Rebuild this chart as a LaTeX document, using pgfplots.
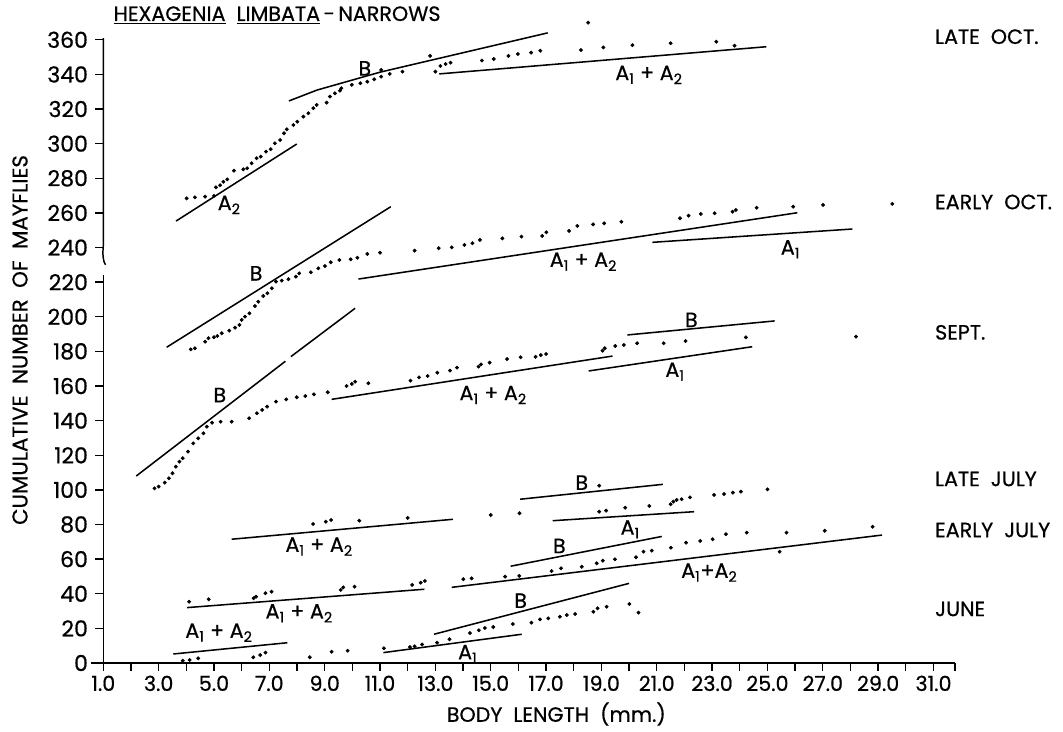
\documentclass[border=0pt]{standalone}
\usepackage{fontspec}
\setmainfont{Poppins}[FakeBold=0.6]
\usepackage{pgfplots}
\pgfplotsset{compat=1.18}
\newcommand{\Ao}{A\textsubscript{1}}
\newcommand{\At}{A\textsubscript{2}}
\newcommand{\lbl}{\fontsize{15.5}{17}\selectfont}
\tikzset{fl/.style={black, solid, no marks, line width=1.15pt},
         dt/.style={black, only marks, mark=*, mark size=1.25pt}}
\begin{document}
\begin{tikzpicture}
\begin{axis}[
  x=20.75pt, y=1.298pt,
  xmin=1, xmax=31.78, ymin=0, ymax=365,
  axis x line=bottom, axis y line=left,
  x axis line style={-, line width=1.1pt},
  y axis line style={draw=none},
  tick align=outside,
  major tick length=6pt,
  tick style={black, line width=1pt},
  xtick={1,2,...,31},
  xticklabels={1.0,,3.0,,5.0,,7.0,,9.0,,11.0,,13.0,,15.0,,17.0,,19.0,,21.0,,23.0,,25.0,,27.0,,29.0,,31.0},
  extra x ticks={31.78}, extra x tick labels={},
  ytick={0,20,...,360},
  /pgf/number format/assume math mode=true,
  ticklabel style={font=\lbl},
  yticklabel style={font=\fontsize{16.5}{18}\selectfont, xshift=-2pt},
  clip=false,
]
% ---------- dots ----------
\addplot[dt] coordinates {% LATE OCT
(4.01,268.4)(4.31,269.0)(4.68,269.4)(5.00,269.8)(5.07,274.8)(5.22,276.0)(5.34,278.0)(5.48,279.4)
(5.72,284.4)(6.06,285.2)(6.20,285.8)(6.36,288.7)(6.54,291.6)(6.69,292.5)(6.88,295.4)(7.05,296.8)
(7.20,300.2)(7.39,302.1)(7.53,306.0)(7.63,308.3)(7.87,310.8)(8.01,312.7)(8.23,315.6)(8.41,317.6)
(8.59,320.5)(8.71,322.4)(9.07,323.7)(9.19,327.2)(9.37,329.1)(9.55,330.6)(9.60,332.0)(9.98,334.0)
(10.29,334.9)(10.54,335.8)(10.79,337.2)(11.04,338.7)(11.35,340.3)(11.04,342.6)(11.81,341.6)
(12.81,350.7)(13.00,341.6)(13.18,344.9)(13.37,346.0)(13.55,346.8)(14.68,348.0)(15.11,348.9)
(15.64,350.7)(15.98,351.8)(16.46,352.6)(16.79,353.7)(18.26,354.1)(18.52,369.9)(19.07,355.6)
(20.12,356.9)(21.50,358.0)(23.15,358.9)(23.81,356.6)};
\addplot[dt] coordinates {% EARLY OCT
(4.16,181.2)(4.31,181.8)(4.68,185.6)(4.80,187.6)(5.00,188.2)(5.12,188.9)(5.28,190.5)(5.55,192.0)
(5.76,193.7)(5.92,195.3)(6.00,198.2)(6.12,200.1)(6.28,202.0)(6.48,206.2)(6.60,208.7)(6.78,212.0)
(6.93,213.6)(7.09,216.5)(7.24,220.3)(7.45,220.9)(7.69,221.7)(7.96,223.2)(8.08,225.1)(8.50,225.7)
(8.77,228.0)(9.01,229.3)(9.22,231.5)(9.53,232.8)(9.94,233.2)(10.18,234.1)(10.54,236.3)(11.00,237.0)
(12.25,238.2)(13.12,239.6)(13.59,240.1)(14.05,241.5)(14.34,242.5)(14.61,244.4)(15.42,245.3)
(16.11,246.3)(16.86,246.7)(17.01,248.8)(17.83,249.6)(18.13,252.5)(18.70,253.4)(19.10,254.0)
(19.72,254.9)(21.84,256.9)(22.15,258.4)(22.59,259.4)(23.09,259.8)(23.74,260.7)(23.86,261.7)
(24.61,263.0)(25.93,263.6)(27.01,264.6)(29.51,265.2)};
\addplot[dt] coordinates {% SEPT
(2.85,100.9)(3.00,101.9)(3.22,104.2)(3.37,106.7)(3.50,109.6)(3.62,113.4)(3.75,116.3)(3.87,118.3)
(4.06,122.1)(4.25,126.9)(4.43,129.8)(4.62,132.7)(4.74,136.5)(4.93,138.8)(5.24,139.4)(5.64,139.4)
(6.27,141.4)(6.55,144.3)(6.74,146.2)(6.92,148.1)(7.24,151.0)(7.61,152.3)(7.99,153.5)(8.30,154.2)
(8.61,155.2)(9.11,156.4)(9.79,160.0)(9.98,161.2)(10.10,162.5)(10.58,161.6)(12.10,163.1)(12.41,165.0)
(12.72,165.8)(13.07,167.7)(13.53,168.9)(13.78,170.6)(14.56,171.2)(14.65,172.5)(14.96,173.5)
(15.59,175.6)(16.08,176.6)(16.62,176.9)(16.81,177.9)(17.00,178.5)(19.04,180.4)(19.12,181.8)
(19.50,183.1)(19.81,183.7)(20.29,184.7)(21.25,184.7)(22.04,186.0)(24.22,188.1)(28.20,188.5)};
\addplot[dt] coordinates {% LATE JULY
(8.58,80.3)(9.04,81.6)(9.23,82.6)(10.25,82.2)(12.00,83.8)(15.00,85.5)(16.04,86.5)(18.92,102.4)
(18.92,87.4)(19.17,88.0)(19.86,89.7)(20.73,90.7)(21.50,91.7)(21.60,93.2)(21.72,94.2)(21.90,94.6)
(22.20,95.7)(23.07,97.1)(23.43,97.6)(23.75,98.4)(24.04,99.0)(25.00,100.3)};
\addplot[dt] coordinates {% EARLY JULY
(4.10,35.4)(4.81,36.8)(6.43,37.4)(6.52,38.3)(6.86,40.3)(7.08,41.2)(9.58,42.2)(9.67,43.7)(10.08,44.1)
(12.16,45.1)(12.47,46.4)(12.62,47.4)(14.01,48.4)(14.31,48.9)(15.52,49.9)(16.03,50.3)(17.20,53.1)
(17.54,54.7)(18.29,55.6)(18.83,57.6)(19.05,59.1)(19.49,59.9)(20.25,61.1)(20.52,64.3)(20.82,64.9)
(21.51,66.6)(22.06,69.5)(22.57,70.5)(23.02,71.5)(23.50,74.4)(24.25,75.3)(25.44,64.3)(25.69,75.3)
(27.07,76.4)(28.80,78.7)};
\addplot[dt] coordinates {% JUNE
(3.87,1.3)(4.12,1.7)(4.43,2.7)(6.42,3.3)(6.67,4.6)(6.86,6.0)(8.46,3.3)(9.25,6.5)(9.83,7.1)
(11.14,8.5)(12.08,9.2)(12.25,9.6)(12.52,10.7)(13.06,11.7)(13.51,13.7)(14.25,17.3)(14.57,18.9)
(14.79,20.2)(15.09,20.8)(15.80,22.5)(16.47,23.3)(16.78,25.2)(17.08,25.8)(17.50,26.7)(17.75,27.7)
(18.05,28.3)(18.71,29.6)(18.86,31.6)(19.19,32.5)(20.01,34.1)(20.34,29.1)};
% ---------- fitted lines ----------
\addplot[fl] coordinates {(3.63,255.3)(7.99,299.8)};
\addplot[fl] coordinates {(7.71,324.7)(8.73,331.0)(11.0,341.3)(17.06,364.0)};
\addplot[fl] coordinates {(13.14,340.3)(24.96,356.0)};
\addplot[fl] coordinates {(3.29,182.4)(11.39,263.6)};
\addplot[fl] coordinates {(10.22,221.8)(26.08,260.1)};
\addplot[fl] coordinates {(20.84,243.0)(28.07,250.7)};
\addplot[fl] coordinates {(2.19,108.0)(7.58,174.3)};
\addplot[fl] coordinates {(7.78,177.0)(10.10,204.9)};
\addplot[fl] coordinates {(9.25,152.3)(19.40,177.3)};
\addplot[fl] coordinates {(19.94,189.5)(25.26,197.6)};
\addplot[fl] coordinates {(18.54,168.7)(24.45,182.7)};
\addplot[fl] coordinates {(5.64,71.5)(13.63,83.0)};
\addplot[fl] coordinates {(16.06,94.6)(21.22,103.2)};
\addplot[fl] coordinates {(17.24,82.2)(22.35,87.4)};
\addplot[fl] coordinates {(4.03,32.0)(12.60,42.6)};
\addplot[fl] coordinates {(13.59,43.7)(29.14,73.9)};
\addplot[fl] coordinates {(15.72,55.9)(21.18,73.1)};
\addplot[fl] coordinates {(3.53,5.2)(7.65,11.7)};
\addplot[fl] coordinates {(11.12,6.0)(16.12,16.6)};
\addplot[fl] coordinates {(12.95,16.6)(20.00,46.0)};
% ---------- axis line pieces ----------
\draw[line width=1.1pt] (axis cs:0.55,0) -- (axis cs:1,0);
\draw[line width=1.1pt] (axis cs:1,0) -- (axis cs:1,224);
\draw[line width=1.1pt] (axis cs:1,361) -- (axis cs:1,241) .. controls (axis cs:0.97,236) and (axis cs:0.99,232) .. (axis cs:1.08,230);
% ---------- labels ----------
\begin{scope}[every node/.style={font=\lbl, inner sep=0pt}]
\node at (axis cs:5.55,264.6) {\At};
\node at (axis cs:10.45,343.5) {B};
\node at (axis cs:20.72,339.7) {\Ao{} + \At};
\node at (axis cs:6.52,225.1) {B};
\node at (axis cs:18.35,231.8) {\Ao{} + \At};
\node at (axis cs:25.83,239.0) {\Ao};
\node at (axis cs:5.21,154.8) {B};
\node at (axis cs:15.09,154.8) {\Ao{} + \At};
\node at (axis cs:22.25,198.2) {B};
\node at (axis cs:21.66,168.3) {\Ao};
\node at (axis cs:8.80,67.2) {\Ao{} + \At};
\node at (axis cs:18.29,104.2) {B};
\node at (axis cs:20.04,77.2) {\Ao};
\node at (axis cs:8.08,28.7) {\Ao{} + \At};
\node at (axis cs:22.90,52.2) {\Ao{}+\At};
\node at (axis cs:17.48,67.6) {B};
\node at (axis cs:5.18,17.5) {\Ao{} + \At};
\node at (axis cs:14.17,5.2) {\Ao};
\node at (axis cs:16.08,36.0) {B};
% month labels
\node[anchor=west] at (axis cs:31.05,361.8) {LATE\ \ OCT.};
\node[anchor=west] at (axis cs:31.05,266.3) {EARLY\ \ OCT.};
\node[anchor=west] at (axis cs:31.05,191.0) {SEPT.};
\node[anchor=west] at (axis cs:31.05,106.3) {LATE\ \ JULY};
\node[anchor=west] at (axis cs:31.05,76.8) {EARLY\ \ JULY};
\node[anchor=west] at (axis cs:31.05,31.2) {JUNE};
% title and axis labels
\node at (axis cs:7.28,374.3) {\underline{HEXAGENIA}\ \ \underline{LIMBATA}\,-\,NARROWS};
\node at (axis cs:17.37,-29.5) {BODY\ \ LENGTH\ \ (mm.)};
\node[rotate=90, font=\fontsize{16}{18}\selectfont] at (axis cs:-2.01,186.6) {CUMULATIVE\ \ NUMBER\ \ OF\ \ MAYFLIES};
\end{scope}
\coordinate (bbll) at (axis cs:-2.733,-39.86);
\coordinate (bbur) at (axis cs:35.68,383.0);
\end{axis}
\pgfresetboundingbox
\useasboundingbox (bbll) rectangle (bbur);
\end{tikzpicture}
\end{document}
